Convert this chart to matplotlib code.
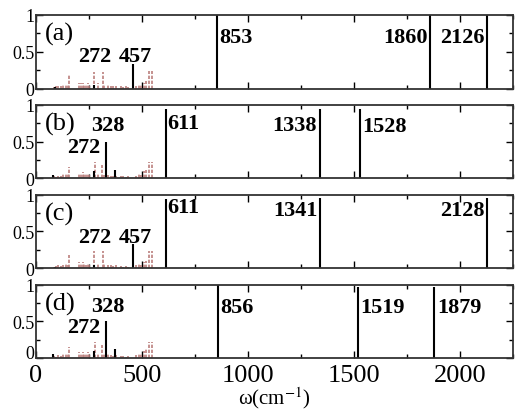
import matplotlib.pyplot as plt
import matplotlib.transforms as mtransforms
from matplotlib.ticker import MultipleLocator

plt.rcParams['font.family'] = ['Liberation Serif', 'DejaVu Serif']
plt.rcParams['mathtext.fontset'] = 'stix'

# small red sticks (low-frequency modes), same pattern for (a)/(c) and (b)/(d)
red_ac_w = [86, 96, 106, 117, 128, 140, 150, 157, 204, 212, 220, 228, 236, 244, 251,
            275, 291, 314, 322, 340, 352, 364, 376, 400, 412, 424, 436, 472, 484, 496,
            508, 519, 534, 547]
red_ac_h = [0.02, 0.03, 0.04, 0.03, 0.05, 0.06, 0.05, 0.18, 0.08, 0.07, 0.08, 0.06, 0.05, 0.07, 0.04,
            0.23, 0.07, 0.23, 0.06, 0.05, 0.04, 0.03, 0.04, 0.03, 0.02, 0.03, 0.02, 0.04, 0.06,
            0.05, 0.08, 0.10, 0.24, 0.24]
red_bd_w = [86, 96, 106, 117, 128, 140, 150, 157, 204, 212, 220, 228, 236, 244, 251,
            278, 290, 312, 322, 340, 352, 364, 376, 400, 412, 424, 436, 472, 484, 496,
            508, 519, 534, 547]
red_bd_h = [0.03, 0.02, 0.04, 0.03, 0.06, 0.06, 0.07, 0.15, 0.08, 0.07, 0.09, 0.07, 0.06, 0.08, 0.05,
            0.22, 0.06, 0.18, 0.05, 0.05, 0.04, 0.03, 0.04, 0.03, 0.03, 0.02, 0.03, 0.04, 0.07,
            0.05, 0.10, 0.12, 0.22, 0.22]

# black sticks per panel
blk_w = {
    'a': [88, 272, 457, 853, 1860, 2126],
    'b': [80, 272, 328, 373, 611, 1338, 1528],
    'c': [88, 272, 457, 611, 1341, 2128],
    'd': [80, 272, 328, 373, 856, 1519, 1879],
}
blk_h = {
    'a': [0.02, 0.05, 0.33, 1.0, 1.0, 1.0],
    'b': [0.05, 0.10, 0.50, 0.12, 0.94, 0.94, 0.94],
    'c': [0.02, 0.05, 0.33, 0.94, 0.96, 0.96],
    'd': [0.05, 0.10, 0.50, 0.12, 1.0, 0.96, 0.97],
}

# peak labels: (text, x, y, horizontal alignment)
labels = {
    'a': [('272', 278, 0.37, 'center'), ('457', 467, 0.37, 'center'),
          ('853', 862, 0.63, 'left'), ('1860', 1848, 0.63, 'right'),
          ('2126', 2114, 0.63, 'right')],
    'b': [('272', 226, 0.36, 'center'), ('328', 340, 0.66, 'center'),
          ('611', 621, 0.69, 'left'), ('1338', 1326, 0.66, 'right'),
          ('1528', 1540, 0.64, 'left')],
    'c': [('272', 278, 0.36, 'center'), ('457', 467, 0.36, 'center'),
          ('611', 621, 0.76, 'left'), ('1341', 1329, 0.72, 'right'),
          ('2128', 2116, 0.72, 'right')],
    'd': [('272', 226, 0.36, 'center'), ('328', 340, 0.64, 'center'),
          ('856', 868, 0.63, 'left'), ('1519', 1531, 0.63, 'left'),
          ('1879', 1891, 0.63, 'left')],
}

panels = ['a', 'b', 'c', 'd']
red_w = {'a': red_ac_w, 'c': red_ac_w, 'b': red_bd_w, 'd': red_bd_w}
red_h = {'a': red_ac_h, 'c': red_ac_h, 'b': red_bd_h, 'd': red_bd_h}

fig, axes = plt.subplots(4, 1, figsize=(5.22, 4.10), dpi=100, sharex=True)
fig.subplots_adjust(left=0.069, right=0.983, top=0.961, bottom=0.124, hspace=0.22)

for ax, p in zip(axes, panels):
    ax.vlines(red_w[p], 0, red_h[p], colors='#bb7f7d', linewidth=1.2, linestyles=(0, (2, 1)))
    ax.vlines(blk_w[p], 0, blk_h[p], colors='black', linewidth=1.5)
    for t, x, y, ha in labels[p]:
        ax.text(x, y, t, ha=ha, va='baseline', fontsize=16, fontweight='bold')
    ax.text(40, 0.66, '(%s)' % p, fontsize=19, va='baseline')
    ax.set_xlim(0, 2250)
    ax.set_ylim(0, 1)
    ax.xaxis.set_major_locator(MultipleLocator(500))
    ax.xaxis.set_minor_locator(MultipleLocator(250))
    ax.yaxis.set_minor_locator(MultipleLocator(0.25))
    ax.set_yticks([0, 0.5, 1])
    ax.set_yticklabels(['0', '0.5', '1'], fontsize=13)
    ax.tick_params(which='both', direction='in', top=True, right=True, width=1)
    ax.tick_params(which='major', length=5, pad=1)
    ax.tick_params(which='minor', length=3)
    ax.tick_params(axis='x', labelsize=19, pad=4)
    for s in ax.spines.values():
        s.set_linewidth(1.3)
        s.set_color('#333333')

axes[-1].set_xticks([0, 500, 1000, 1500, 2000])
axes[-1].set_xlabel('ω(cm$^{-1}$)', fontsize=15, labelpad=-1)

# lift the bottom "0" a little so it clears the x tick label
lbl0 = axes[-1].get_yticklabels()[0]
lbl0.set_transform(lbl0.get_transform() +
                   mtransforms.ScaledTranslation(0, 5 / 72, fig.dpi_scale_trans))

fig.savefig('out.png', dpi=100)
